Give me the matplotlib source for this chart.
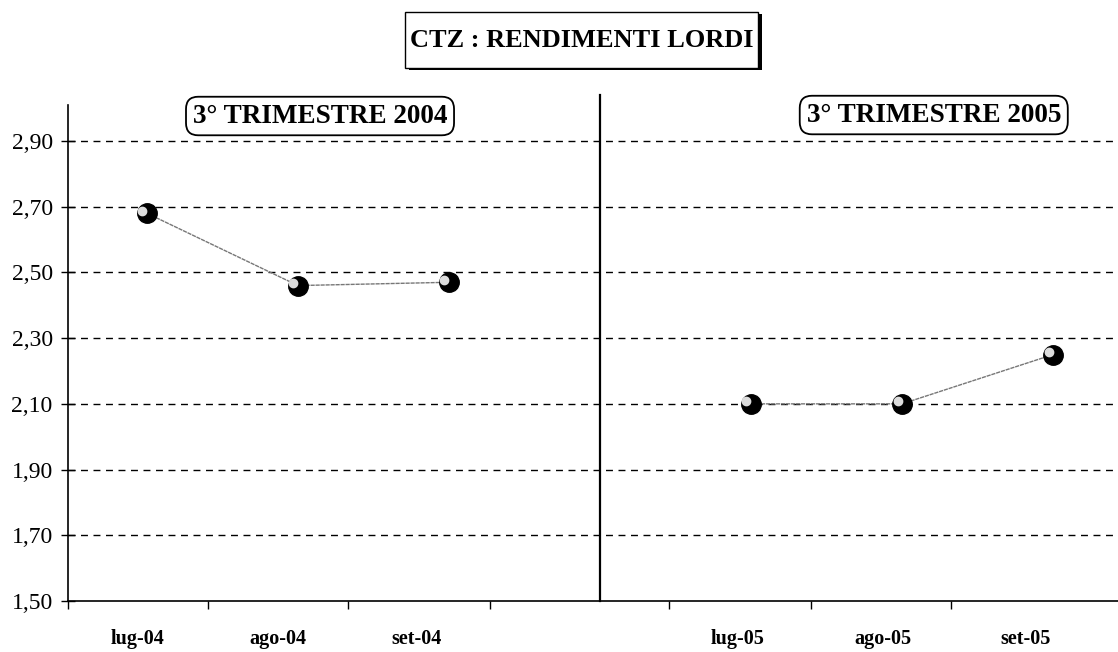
import numpy as np
import matplotlib.pyplot as plt
from matplotlib.patches import Rectangle

plt.rcParams['font.family'] = ['Liberation Serif', 'DejaVu Serif']

# data
periods = ["3° TRIMESTRE 2004", "3° TRIMESTRE 2005"]
labels_04 = ["lug-04", "ago-04", "set-04"]
labels_05 = ["lug-05", "ago-05", "set-05"]
values_04 = [2.68, 2.46, 2.47]
values_05 = [2.10, 2.10, 2.25]
yticks = [1.50, 1.70, 1.90, 2.10, 2.30, 2.50, 2.70, 2.90]

x04 = np.arange(3)
x05 = np.arange(3) + 4

fig = plt.figure(figsize=(11.18, 6.52), dpi=100)
ax = fig.add_axes([0.0608, 0.0782, 0.9392, 0.761])
ax.set_xlim(-0.523, 6.43)
ax.set_ylim(1.50, 3.01)

for y in yticks[1:]:
    ax.axhline(y, color='black', lw=1.0, ls=(0, (5, 4)), zorder=1)

for xs, vs in [(x04, values_04), (x05, values_05)]:
    ax.plot(xs, vs, color='#777777', lw=1.0, ls=(0, (3, 0.6)), zorder=2)
    ax.plot(xs, vs, 'o', color='black', ms=14, zorder=3)
    ax.plot(xs - 0.03, np.array(vs) + 0.008, 'o', color='#dddddd', ms=6, zorder=4)

# divider between the two quarters
ax.plot([3, 3], [1.50, 3.04], color='black', lw=1.6, clip_on=False, zorder=2)

ax.spines['top'].set_visible(False)
ax.spines['right'].set_visible(False)
ax.spines['left'].set_linewidth(1.2)
ax.spines['bottom'].set_linewidth(1.2)

ax.set_yticks(yticks)
ax.set_yticklabels(["{:.2f}".format(v).replace('.', ',') for v in yticks], fontsize=17)
ax.tick_params(axis='y', direction='inout', length=10, width=1, pad=6)

# category tick marks sit between the labels
tick_marks = [-0.523, 0.404, 1.331, 2.272, 3.457, 4.397, 5.325]
label_pos = [-0.06, 0.868, 1.788, 3.914, 4.874, 5.815]
ax.set_xticks(tick_marks, minor=True)
ax.set_xticks(label_pos)
ax.set_xticklabels(labels_04 + labels_05, fontsize=14.5, fontweight='bold')
ax.tick_params(axis='x', which='major', length=0, pad=20)
ax.tick_params(axis='x', which='minor', direction='out', length=6, width=1)

# quarter boxes
box = dict(boxstyle='round,pad=0.25,rounding_size=0.45', fc='white', ec='black', lw=1.3)
ax.text(1.146, 2.976, periods[0], ha='center', va='center', fontsize=19.5, fontweight='bold',
        bbox=box, zorder=5)
ax.text(5.21, 2.979, periods[1], ha='center', va='center', fontsize=19.5, fontweight='bold',
        bbox=box, zorder=5)

# title with shadow box
fig.add_artist(Rectangle((0.3655, 0.8925), 0.316, 0.086, transform=fig.transFigure,
                         fc='black', ec='none', zorder=1))
fig.add_artist(Rectangle((0.362, 0.896), 0.316, 0.086, transform=fig.transFigure,
                         fc='white', ec='black', lw=1.0, zorder=2))
fig.text(0.520, 0.938, "CTZ : RENDIMENTI LORDI", ha='center', va='center', fontsize=19,
         fontweight='bold', zorder=5)

fig.savefig('out.png', dpi=100)
